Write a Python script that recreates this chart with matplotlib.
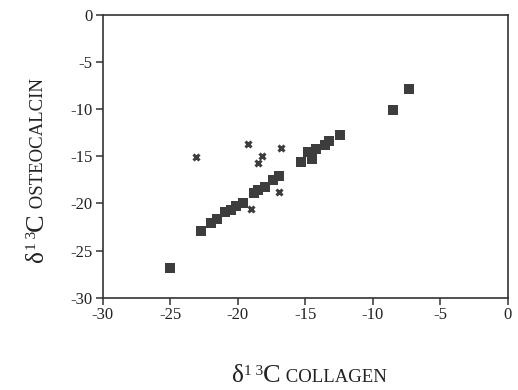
import matplotlib
matplotlib.use("Agg")
import matplotlib.pyplot as plt

# collagen vs osteocalcin delta13C values
sq_x = [-25.0, -22.7, -22.0, -21.5, -20.9, -20.5, -20.1, -19.6, -18.8, -18.5,
        -18.0, -17.4, -16.9, -15.3, -14.8, -14.5, -14.2, -13.5, -13.2, -12.4,
        -8.5, -7.3]
sq_y = [-26.9, -22.9, -22.1, -21.7, -20.9, -20.7, -20.3, -20.0, -18.9, -18.6,
        -18.2, -17.5, -17.1, -15.6, -14.5, -15.3, -14.2, -13.8, -13.4, -12.7,
        -10.1, -7.8]
x_x = [-23.1, -19.2, -18.2, -18.5, -16.8, -16.9, -19.0]
x_y = [-15.1, -13.7, -15.0, -15.7, -14.1, -18.8, -20.6]
ticks = [-30, -25, -20, -15, -10, -5, 0]

plt.rcParams["font.family"] = ["Liberation Serif", "DejaVu Serif"]
fig = plt.figure(figsize=(5.18, 3.9), dpi=100)
ax = fig.add_axes([0.198, 0.2367, 0.782, 0.7248])
ax.plot(sq_x, sq_y, "s", color="#3d3d3d", markersize=6.5, markeredgewidth=0)
ax.plot(x_x, x_y, "x", color="#3d3d3d", markersize=5, markeredgewidth=2.2)
ax.set_xlim(-30, 0)
ax.set_ylim(-30, 0)
ax.set_xticks(ticks)
ax.set_yticks(ticks)
ax.set_xticklabels([str(t) for t in ticks])
ax.set_yticklabels([str(t) for t in ticks])
ax.tick_params(direction="out", length=5, width=1.1, labelsize=12, pad=2,
               color="#333333", labelcolor="#222222")
for s in ax.spines.values():
    s.set_linewidth(1.2)
    s.set_color("#333333")

# axis titles built from pieces: delta, superscript 13, big C, small caps word
fig.canvas.draw()
r = fig.canvas.get_renderer()


def label(x0, y0, word, vertical=False):
    pieces = [("\u03b4", 18, 0), ("1 3", 11, 7), ("C", 19, 0), (" " + word, 13.5, 0)]
    pos = x0 if not vertical else y0
    for txt, size, rise in pieces:
        if vertical:
            t = fig.text(x0 - rise, pos, txt, fontsize=size, rotation=90,
                         ha="left", va="baseline", color="#222222",
                         transform=None, rotation_mode="anchor")
            bb = t.get_window_extent(r)
            pos += bb.height
        else:
            t = fig.text(pos, y0 + rise, txt, fontsize=size, ha="left",
                         va="baseline", color="#222222", transform=None)
            bb = t.get_window_extent(r)
            pos += bb.width


label(232, 390 - 382, "COLLAGEN")
label(43, 390 - 262, "OSTEOCALCIN", vertical=True)

fig.savefig("out.png", dpi=100)
